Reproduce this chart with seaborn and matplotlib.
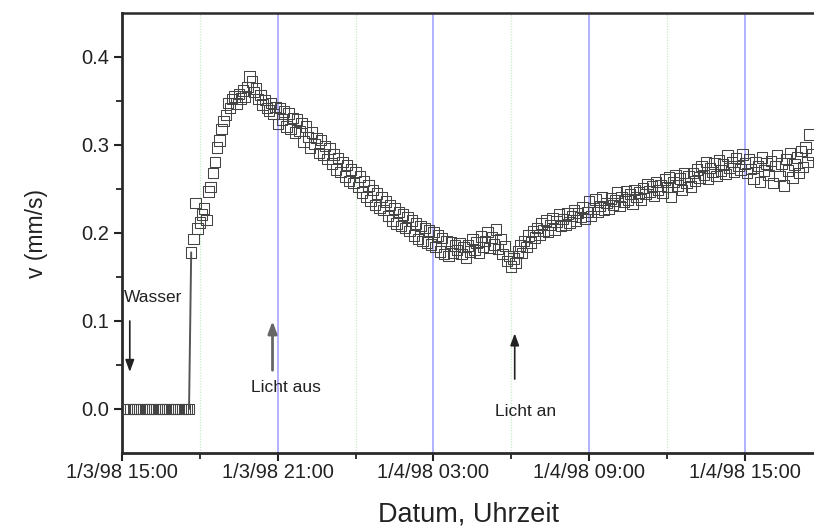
import numpy as np
import pandas as pd
import matplotlib
matplotlib.use("Agg")
import matplotlib.pyplot as plt
import matplotlib.dates as mdates
import seaborn as sns

# Flow velocity v (mm/s), one reading every 5 minutes
zero_start = "1998-01-03 15:05"
zero_values = [0.0] * 31          # 15:05 .. 17:35, no water yet

flow_start = "1998-01-03 17:40"
flow_values = [
    # 17:40-17:55
    0.178, 0.193, 0.234, 0.205,
    # 18:00-18:55
    0.212, 0.221, 0.228, 0.215, 0.247, 0.252, 0.268, 0.281, 0.297, 0.305, 0.318, 0.327,
    # 19:00
    0.334, 0.348, 0.342, 0.352, 0.355, 0.347, 0.358, 0.353, 0.362, 0.355, 0.366, 0.378,
    # 20:00
    0.372, 0.360, 0.364, 0.352, 0.357, 0.346, 0.351, 0.342, 0.339, 0.348, 0.335, 0.343,
    # 21:00
    0.324, 0.342, 0.329, 0.338, 0.321, 0.336, 0.318, 0.331, 0.314, 0.329, 0.316, 0.325,
    # 22:00
    0.304, 0.321, 0.309, 0.297, 0.314, 0.301, 0.308, 0.291, 0.306, 0.289, 0.299, 0.284,
    # 23:00
    0.296, 0.279, 0.289, 0.272, 0.285, 0.269, 0.281, 0.264, 0.277, 0.259, 0.272, 0.257,
    # 00:00
    0.269, 0.252, 0.264, 0.246, 0.259, 0.241, 0.254, 0.237, 0.249, 0.232, 0.245, 0.229,
    # 01:00
    0.241, 0.226, 0.236, 0.219, 0.232, 0.214, 0.228, 0.211, 0.224, 0.208, 0.221, 0.206,
    # 02:00
    0.218, 0.202, 0.214, 0.197, 0.211, 0.193, 0.208, 0.191, 0.206, 0.189, 0.203, 0.187,
    # 03:00
    0.201, 0.184, 0.197, 0.179, 0.194, 0.176, 0.191, 0.174, 0.189, 0.177, 0.186, 0.181,
    # 04:00
    0.188, 0.176, 0.184, 0.172, 0.186, 0.179, 0.193, 0.181, 0.189, 0.178, 0.196, 0.184,
    # 05:00
    0.191, 0.201, 0.183, 0.195, 0.187, 0.204, 0.182, 0.193, 0.176, 0.185, 0.168, 0.174,
    # 06:00
    0.162, 0.171, 0.166, 0.179, 0.186, 0.177, 0.191, 0.184, 0.197, 0.189, 0.202, 0.195,
    # 07:00
    0.206, 0.198, 0.211, 0.203, 0.214, 0.201, 0.209, 0.217, 0.204, 0.213, 0.221, 0.208,
    # 08:00
    0.216, 0.209, 0.222, 0.212, 0.219, 0.226, 0.214, 0.223, 0.218, 0.229, 0.216, 0.224,
    # 09:00
    0.236, 0.219, 0.228, 0.238, 0.224, 0.231, 0.241, 0.226, 0.234, 0.228, 0.239, 0.232,
    # 10:00
    0.237, 0.246, 0.231, 0.241, 0.236, 0.248, 0.238, 0.244, 0.233, 0.249, 0.241, 0.246,
    # 11:00
    0.238, 0.251, 0.244, 0.256, 0.247, 0.253, 0.242, 0.258, 0.249, 0.254, 0.246, 0.261,
    # 12:00
    0.252, 0.263, 0.241, 0.258, 0.266, 0.254, 0.262, 0.249, 0.268, 0.257, 0.264, 0.253,
    # 13:00
    0.268, 0.259, 0.272, 0.263, 0.276, 0.266, 0.281, 0.262, 0.274, 0.269, 0.279, 0.265,
    # 14:00
    0.283, 0.271, 0.278, 0.267, 0.288, 0.274, 0.281, 0.269, 0.285, 0.276, 0.272, 0.289,
    # 15:00
    0.279, 0.268, 0.284, 0.273, 0.262, 0.281, 0.276, 0.258, 0.286, 0.271, 0.279, 0.266,
    # 16:00
    0.282, 0.257, 0.276, 0.288, 0.265, 0.279, 0.254, 0.284, 0.271, 0.291, 0.263, 0.278,
    # 17:00-17:35
    0.286, 0.268, 0.293, 0.275, 0.297, 0.281, 0.312, 0.289,
]

tick_times = ["1998-01-03 15:00", "1998-01-03 21:00", "1998-01-04 03:00",
              "1998-01-04 09:00", "1998-01-04 15:00"]
half_times = ["1998-01-03 18:00", "1998-01-04 00:00", "1998-01-04 06:00",
              "1998-01-04 12:00"]
x_range = ["1998-01-03 15:00", "1998-01-04 17:40"]
y_range = [-0.05, 0.45]

zero_t = pd.date_range(zero_start, periods=len(zero_values), freq="5min")
flow_t = pd.date_range(flow_start, periods=len(flow_values), freq="5min")
df = pd.DataFrame({
    "t": list(zero_t) + list(flow_t),
    "v": zero_values + flow_values,
})

sns.set_theme(style="ticks")
plt.rcParams["font.family"] = ["Liberation Sans", "DejaVu Sans"]

fig = plt.figure(figsize=(8.14, 5.30), dpi=100)
ax = fig.add_axes([122 / 814, 1 - 453 / 530, 1 - 122 / 814, 440 / 530])

# day/night grid: solid blue at the labelled hours, dotted green in between
for t in tick_times[1:]:
    ax.axvline(pd.Timestamp(t), color="#9c9cff", lw=1.1, zorder=0)
for t in half_times:
    ax.axvline(pd.Timestamp(t), color="#c4eec4", lw=0.9, ls=(0, (1, 1.2)), zorder=0)

# step where the water arrives
ax.plot([zero_t[-1], flow_t[0]], [zero_values[-1], flow_values[0]],
        color="#555555", lw=1.4, zorder=2)

sns.scatterplot(data=df, x="t", y="v", ax=ax, marker="s", s=56,
                facecolor="none", edgecolor="#444444", linewidth=0.75, zorder=3)

ax.set_xlim(pd.Timestamp(x_range[0]), pd.Timestamp(x_range[1]))
ax.set_ylim(*y_range)

ax.set_xticks([pd.Timestamp(t) for t in tick_times])
ax.set_xticks([pd.Timestamp(t) for t in half_times], minor=True)
ax.xaxis.set_major_formatter(mdates.DateFormatter("%-m/%-d/%y %H:%M"))
ax.set_yticks([0.0, 0.1, 0.2, 0.3, 0.4])
ax.set_yticks([0.05, 0.15, 0.25, 0.35], minor=True)
ax.yaxis.set_major_formatter(matplotlib.ticker.FormatStrFormatter("%.1f"))

ax.tick_params(which="major", direction="out", length=6, width=1.5,
               color="#222222", labelsize=14.5, labelcolor="#222222", pad=3)
ax.tick_params(axis="x", which="major", pad=1)
ax.tick_params(which="minor", direction="out", length=4, width=1.3, color="#222222")

for side in ("left", "bottom"):
    ax.spines[side].set_linewidth(2.0)
    ax.spines[side].set_color("#2a2a2a")
ax.spines["top"].set_linewidth(1.8)
ax.spines["top"].set_color("#2a2a2a")
ax.spines["right"].set_visible(False)

ax.set_xlabel("Datum, Uhrzeit", fontsize=19.5, color="#222222", labelpad=14)
ax.set_ylabel("v (mm/s)", fontsize=16.5, color="#222222", labelpad=24)

# event markers
arrow_kw = dict(arrowstyle="-|>,head_length=0.6,head_width=0.22",
                color="#222222", lw=1.2, shrinkA=0, shrinkB=0)
ax.annotate("", xy=(pd.Timestamp("1998-01-03 15:18"), 0.042),
            xytext=(pd.Timestamp("1998-01-03 15:18"), 0.100), arrowprops=arrow_kw)
ax.text(pd.Timestamp("1998-01-03 16:13"), 0.127, "Wasser", fontsize=12.5,
        ha="center", va="center", color="#222222")

aus_kw = dict(arrow_kw, color="#666666", lw=2.0)
ax.annotate("", xy=(pd.Timestamp("1998-01-03 20:48"), 0.100),
            xytext=(pd.Timestamp("1998-01-03 20:48"), 0.044), arrowprops=aus_kw)
ax.text(pd.Timestamp("1998-01-03 21:20"), 0.025, "Licht aus", fontsize=12.5,
        ha="center", va="center", color="#222222")

ax.annotate("", xy=(pd.Timestamp("1998-01-04 06:08"), 0.086),
            xytext=(pd.Timestamp("1998-01-04 06:08"), 0.034), arrowprops=arrow_kw)
ax.text(pd.Timestamp("1998-01-04 06:32"), -0.003, "Licht an", fontsize=12.5,
        ha="center", va="center", color="#222222")

fig.savefig("out.png", dpi=100)
